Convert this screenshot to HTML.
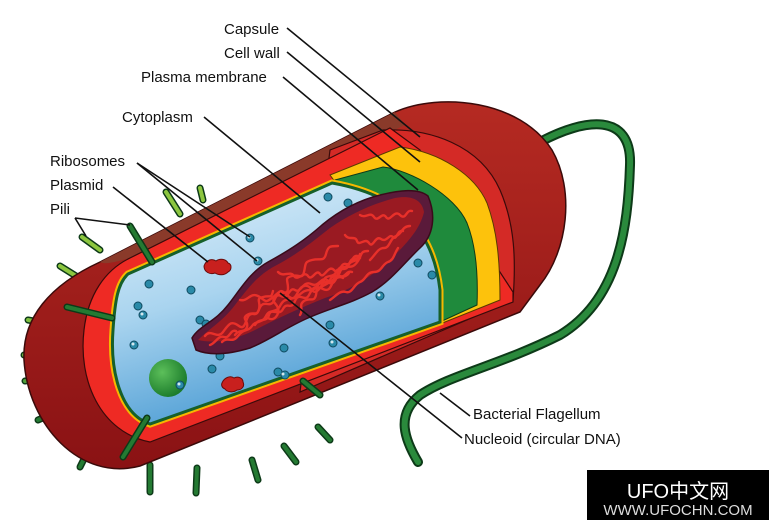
<!DOCTYPE html>
<html><head><meta charset="utf-8"><style>
html,body{margin:0;padding:0;background:#fff;}
svg{display:block;}
text{font-family:"Liberation Sans","Noto Sans CJK SC",sans-serif;}
</style></head><body>
<svg width="769" height="520" viewBox="0 0 769 520" xmlns="http://www.w3.org/2000/svg">
<defs>
<linearGradient id="bl" x1="0" y1="0" x2="0.4" y2="1">
<stop offset="0" stop-color="#e4f2fb"/><stop offset="0.5" stop-color="#a9d4ef"/><stop offset="1" stop-color="#4a9bd3"/>
</linearGradient>
<linearGradient id="dr" x1="0" y1="0" x2="0" y2="1">
<stop offset="0" stop-color="#b52a22"/><stop offset="1" stop-color="#8a1214"/>
</linearGradient>
<radialGradient id="gg" cx="0.35" cy="0.35" r="0.7"><stop offset="0" stop-color="#5cbf5a"/><stop offset="1" stop-color="#1a7a2a"/></radialGradient>
</defs>

<path d="M540,142 C585,118 632,112 630,165 C628,230 618,300 560,335 C500,365 450,375 420,395 C395,415 405,440 418,462" fill="none" stroke="#0d3a18" stroke-width="10" stroke-linecap="round"/>
<path d="M540,142 C585,118 632,112 630,165 C628,230 618,300 560,335 C500,365 450,375 420,395 C395,415 405,440 418,462" fill="none" stroke="#2a8a3c" stroke-width="6" stroke-linecap="round"/>

<g stroke-linecap="round" fill="none">
<g stroke="#0d3a18" stroke-width="7">
<line x1="166" y1="192" x2="180" y2="214"/><line x1="200" y1="188" x2="203" y2="200"/>
<line x1="82" y1="237" x2="100" y2="250"/><line x1="60" y1="266" x2="76" y2="276"/>
<line x1="28" y1="320" x2="56" y2="325"/><line x1="24" y1="355" x2="44" y2="355"/>
<line x1="25" y1="381" x2="52" y2="378"/><line x1="38" y1="420" x2="78" y2="403"/>
<line x1="80" y1="467" x2="92" y2="443"/><line x1="150" y1="492" x2="150" y2="465"/>
<line x1="196" y1="493" x2="197" y2="468"/><line x1="258" y1="480" x2="252" y2="460"/>
<line x1="296" y1="462" x2="284" y2="446"/><line x1="330" y1="440" x2="318" y2="427"/>
</g>
<g stroke-width="4">
<line x1="166" y1="192" x2="180" y2="214" stroke="#8cc63f"/><line x1="200" y1="188" x2="203" y2="200" stroke="#8cc63f"/>
<line x1="82" y1="237" x2="100" y2="250" stroke="#8cc63f"/><line x1="60" y1="266" x2="76" y2="276" stroke="#8cc63f"/>
<line x1="28" y1="320" x2="56" y2="325" stroke="#7fbf3f"/><line x1="24" y1="355" x2="44" y2="355" stroke="#6fb23f"/>
<line x1="25" y1="381" x2="52" y2="378" stroke="#4f9f3a"/><line x1="38" y1="420" x2="78" y2="403" stroke="#247a32"/>
<line x1="80" y1="467" x2="92" y2="443" stroke="#247a32"/><line x1="150" y1="492" x2="150" y2="465" stroke="#247a32"/>
<line x1="196" y1="493" x2="197" y2="468" stroke="#247a32"/><line x1="258" y1="480" x2="252" y2="460" stroke="#247a32"/>
<line x1="296" y1="462" x2="284" y2="446" stroke="#247a32"/><line x1="330" y1="440" x2="318" y2="427" stroke="#247a32"/>
</g>
</g>

<path d="M100,262 L395,112 C440,92 520,100 552,150 C575,190 568,250 540,285 L520,312 L140,466 C80,482 28,425 24,360 C22,318 50,285 100,262 Z" fill="url(#dr)" stroke="#3a0a0a" stroke-width="1.5"/>
<path d="M100,262 L395,112 L405,125 L130,258 C115,262 105,265 100,262 Z" fill="#8a3a2a"/>
<path d="M330,150 L383,130 C430,128 480,145 500,190 C515,225 516,260 513,300 L300,392 Z" fill="#d42a26" stroke="#3a0a0a" stroke-width="1.2"/>
<path d="M130,258 L390,128 L420,150 L513,292 L513,302 L150,442 C100,432 78,380 84,330 C88,295 105,270 130,258 Z" fill="#ee2a24" stroke="#3a0a0a" stroke-width="1.2"/>
<path d="M330,175 L400,147 C440,152 475,175 487,203 C497,230 500,260 500,300 L440,324 Z" fill="#fdc20c" stroke="#5a3a00" stroke-width="1"/>
<path d="M335,180 L383,167 C410,170 455,195 467,223 C477,248 478,280 477,305 L440,322 Z" fill="#1f8a3c" stroke="#0d3a18" stroke-width="1"/>
<path d="M128,274 L332,183 C400,195 433,230 440,290 L440,322 L150,424 C120,414 110,370 113,330 C115,300 118,283 128,274 Z" fill="none" stroke="#f5b800" stroke-width="7"/>
<path d="M128,274 L332,183 C400,195 433,230 440,290 L440,322 L150,424 C120,414 110,370 113,330 C115,300 118,283 128,274 Z" fill="url(#bl)" stroke="#16602a" stroke-width="3"/>

<g stroke-linecap="round">
<line x1="130" y1="226" x2="152" y2="262" stroke="#0d3a18" stroke-width="7"/><line x1="130" y1="226" x2="152" y2="262" stroke="#247a32" stroke-width="4"/>
<line x1="67" y1="307" x2="112" y2="318" stroke="#0d3a18" stroke-width="7"/><line x1="67" y1="307" x2="112" y2="318" stroke="#247a32" stroke-width="4"/>
<line x1="123" y1="457" x2="147" y2="418" stroke="#0d3a18" stroke-width="7"/><line x1="123" y1="457" x2="147" y2="418" stroke="#247a32" stroke-width="4"/>
<line x1="303" y1="381" x2="320" y2="395" stroke="#0d3a18" stroke-width="7"/><line x1="303" y1="381" x2="320" y2="395" stroke="#247a32" stroke-width="4"/>
</g>

<circle cx="168" cy="378" r="19" fill="url(#gg)"/>
<g fill="#2a8aa8" stroke="#0f4a60" stroke-width="1">
<circle cx="250" cy="238" r="4"/><circle cx="258" cy="261" r="4"/><circle cx="149" cy="284" r="4"/><circle cx="191" cy="290" r="4"/>
<circle cx="138" cy="306" r="4"/><circle cx="143" cy="315" r="4"/><circle cx="200" cy="320" r="4"/><circle cx="206" cy="324" r="4"/>
<circle cx="134" cy="345" r="4"/><circle cx="220" cy="356" r="4"/><circle cx="212" cy="369" r="4"/><circle cx="284" cy="348" r="4"/>
<circle cx="285" cy="375" r="4"/><circle cx="333" cy="343" r="4"/><circle cx="330" cy="325" r="4"/><circle cx="346" cy="288" r="4"/>
<circle cx="380" cy="296" r="4"/><circle cx="418" cy="263" r="4"/><circle cx="328" cy="197" r="4"/><circle cx="348" cy="203" r="4"/>
<circle cx="180" cy="385" r="4"/><circle cx="278" cy="372" r="4"/><circle cx="432" cy="275" r="4"/>
</g>
<g fill="#fff" opacity="0.8">
<circle cx="249" cy="237" r="1.5"/><circle cx="257" cy="260" r="1.5"/><circle cx="142" cy="314" r="1.5"/><circle cx="133" cy="344" r="1.5"/>
<circle cx="283" cy="374" r="1.5"/><circle cx="332" cy="342" r="1.5"/><circle cx="379" cy="295" r="1.5"/><circle cx="179" cy="384" r="1.5"/>
</g>

<!-- nucleoid -->
<path d="M192,338 C200,325 215,322 228,305 C240,290 250,272 268,262 C290,250 305,240 322,225 C340,210 360,200 380,195 C400,190 418,188 428,196 C436,215 434,235 420,248 C405,262 392,280 372,292 C350,304 330,308 308,318 C285,328 270,340 250,348 C230,354 210,356 196,350 Z" fill="#5a1a3a" stroke="#3a0a1a" stroke-width="1.5"/>
<path d="M198,340 C210,328 222,322 235,305 C248,288 258,275 275,266 C298,254 312,242 330,228 C350,214 372,204 395,198 C412,195 422,200 424,212 C420,230 405,245 390,260 C370,278 350,290 325,298 C300,308 278,318 255,330 C235,340 215,344 198,340 Z" fill="#9a1a22"/>
<g fill="none" stroke="#e8302a" stroke-width="2.4" stroke-linecap="round">
<path d="M205,336 c6,-8 12,4 18,-4 s8,-12 16,-6 s6,-14 14,-12 s4,-12 14,-10 s6,-12 14,-8 s8,-10 14,-6 s8,-10 16,-6 s10,-8 16,-4 s10,-6 16,-2"/>
<path d="M222,342 c6,-6 10,2 16,-6 s10,-4 14,-10 s10,-2 14,-10 s10,-2 14,-10 s8,-6 14,-8 s8,-8 16,-8 s8,-10 16,-8 s8,-8 14,-6 s6,-6 12,-4"/>
<path d="M240,300 c8,2 10,-8 18,-4 s6,8 14,2 s8,-10 14,-4 s8,6 12,-2 s10,-8 14,-2 s10,-4 12,-10 s10,-2 12,-8 s10,0 12,-6 s8,-4 12,-8"/>
<path d="M255,325 c4,-8 12,-2 14,-10 s10,2 14,-6 s8,2 12,-8 s10,2 14,-6 s6,-10 14,-6 s8,-6 12,-10 s10,0 14,-6"/>
<path d="M268,318 c6,4 12,-4 10,-10 s-8,-6 -2,-12 s12,0 12,-8 s-4,-10 4,-12 s10,4 12,-4 s0,-10 8,-12 s12,2 14,-6 s4,-8 12,-8"/>
<path d="M300,315 c4,-6 -2,-10 4,-14 s10,2 12,-6 s-2,-10 6,-12 s10,4 14,-4 s0,-12 8,-12 s10,0 14,-6 s2,-10 10,-10"/>
<path d="M330,300 c6,-4 10,-10 16,-8 s8,-8 14,-10 s6,-10 14,-10 s8,-8 14,-10 s6,-8 10,-14"/>
<path d="M235,335 c4,-6 10,-2 12,-8 s-6,-8 0,-12 s10,2 12,-6 s-4,-10 4,-12 s8,2 10,-6"/>
<path d="M360,215 c6,4 10,-4 14,2 s8,-6 12,0 s8,-8 14,-2 s6,-6 12,-4"/>
<path d="M370,260 c6,-6 8,-12 14,-12 s6,-10 12,-12 s6,-10 14,-10"/>
<path d="M278,272 c6,6 12,-2 16,4 s10,-6 14,0 s8,-8 12,-2 s8,-10 14,-4 s6,-8 12,-6 s6,-10 12,-8"/>
<path d="M345,235 c4,6 10,0 12,6 s8,-4 12,2 s6,-8 12,-4 s8,-6 12,-2 s4,-8 10,-6"/>
<path d="M210,345 c6,-2 8,-10 14,-8 s6,-8 12,-6"/>
<path d="M318,290 c4,-6 10,-4 12,-10 s8,-2 10,-8 s8,-4 10,-10 s8,0 10,-8"/>
</g>
<path d="M204,266 c2,-6 8,-8 12,-5 c4,-3 10,-2 12,2 c4,1 4,7 0,9 c-4,4 -10,3 -13,1 c-5,2 -11,-1 -11,-7 Z" fill="#c8201e" stroke="#6a0a0a" stroke-width="1"/>
<path d="M222,383 c2,-5 8,-8 12,-5 c4,-2 9,0 9,4 c2,4 -1,8 -6,8 c-4,3 -10,2 -12,-1 c-3,-1 -4,-4 -3,-6 Z" fill="#c8201e" stroke="#6a0a0a" stroke-width="1"/>

<g stroke="#111" stroke-width="1.6" fill="none">
<line x1="287" y1="28" x2="420" y2="137"/>
<line x1="287" y1="52" x2="420" y2="162"/>
<line x1="283" y1="77" x2="418" y2="190"/>
<line x1="204" y1="117" x2="320" y2="213"/>
<line x1="137" y1="163" x2="250" y2="237"/>
<line x1="137" y1="163" x2="257" y2="261"/>
<line x1="113" y1="187" x2="208" y2="262"/>
<line x1="75" y1="218" x2="86" y2="236"/>
<line x1="75" y1="218" x2="130" y2="225"/>
<line x1="470" y1="416" x2="440" y2="393"/>
<line x1="462" y1="438" x2="280" y2="293"/>
</g>

<g font-size="15" fill="#111">
<text x="224" y="34">Capsule</text>
<text x="224" y="58">Cell wall</text>
<text x="141" y="82">Plasma membrane</text>
<text x="122" y="122">Cytoplasm</text>
<text x="50" y="166">Ribosomes</text>
<text x="50" y="190">Plasmid</text>
<text x="50" y="214">Pili</text>
<text x="473" y="419">Bacterial Flagellum</text>
<text x="464" y="444">Nucleoid (circular DNA)</text>
</g>

<rect x="587" y="470" width="182" height="50" fill="#000"/>
<text x="678" y="498" font-size="20" fill="#fff" text-anchor="middle">UFO中文网</text>
<text x="678" y="515" font-size="15" fill="#ddd" text-anchor="middle">WWW.UFOCHN.COM</text>
</svg>
</body></html>
